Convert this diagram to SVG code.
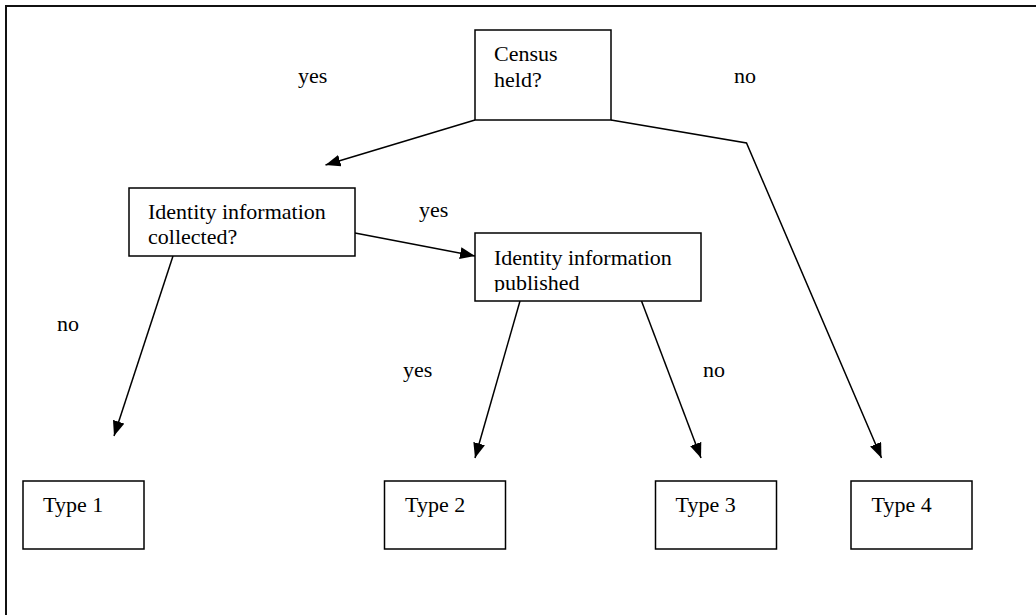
<svg xmlns="http://www.w3.org/2000/svg" width="1036" height="615" viewBox="0 0 1036 615">
<style>
.box{fill:#fff;stroke:#000;stroke-width:1.5}
.frame{fill:none;stroke:#111;stroke-width:2}
.t{font-family:"Liberation Serif","Times New Roman",serif;font-size:22px;fill:#000}
.c{fill:none;stroke:#000;stroke-width:1.5}
</style>
<defs>
<marker id="ah" viewBox="0 0 15 12" refX="15" refY="6" markerWidth="15" markerHeight="12" markerUnits="userSpaceOnUse" orient="auto">
<path d="M0,0 L15,6 L0,12 Z" fill="#000"/>
</marker>
<clipPath id="pubclip"><rect x="475" y="233" width="226" height="59"/></clipPath>
</defs>
<rect class="frame" x="6" y="6" width="1045" height="625"/>
<g id="connectors">
<line class="c" x1="475" y1="120" x2="325.5" y2="165" marker-end="url(#ah)"/>
<polyline class="c" points="611,120 746.5,143 881.5,458" marker-end="url(#ah)"/>
<line class="c" x1="355" y1="233" x2="475" y2="256" marker-end="url(#ah)"/>
<line class="c" x1="173" y1="256" x2="114" y2="436" marker-end="url(#ah)"/>
<line class="c" x1="520" y1="301" x2="475" y2="458" marker-end="url(#ah)"/>
<line class="c" x1="641.5" y1="301" x2="701" y2="458" marker-end="url(#ah)"/>
</g>
<g id="labels">
<text class="t" x="298" y="83">yes</text>
<text class="t" x="734" y="83">no</text>
<text class="t" x="419" y="217">yes</text>
<text class="t" x="57" y="331">no</text>
<text class="t" x="403" y="377">yes</text>
<text class="t" x="703" y="377">no</text>
</g>
<g id="census">
<rect class="box" x="475" y="30" width="136" height="90"/>
<text class="t" x="494" y="61">Census</text>
<text class="t" x="494" y="87">held?</text>
</g>
<g id="collected">
<rect class="box" x="129" y="188" width="226" height="68"/>
<text class="t" x="148" y="219">Identity information</text>
<text class="t" x="148" y="244">collected?</text>
</g>
<g id="published">
<rect class="box" x="475" y="233" width="226" height="68"/>
<g clip-path="url(#pubclip)">
<text class="t" x="494" y="265">Identity information</text>
<text class="t" x="494" y="289.5">published</text>
</g>
</g>
<g id="type1">
<rect class="box" x="23" y="481" width="121" height="68"/>
<text class="t" x="43" y="512">Type 1</text>
</g>
<g id="type2">
<rect class="box" x="384.5" y="481" width="121" height="68"/>
<text class="t" x="405" y="512">Type 2</text>
</g>
<g id="type3">
<rect class="box" x="655.5" y="481" width="121" height="68"/>
<text class="t" x="675.5" y="512">Type 3</text>
</g>
<g id="type4">
<rect class="box" x="851" y="481" width="121" height="68"/>
<text class="t" x="871.5" y="512">Type 4</text>
</g>
</svg>
